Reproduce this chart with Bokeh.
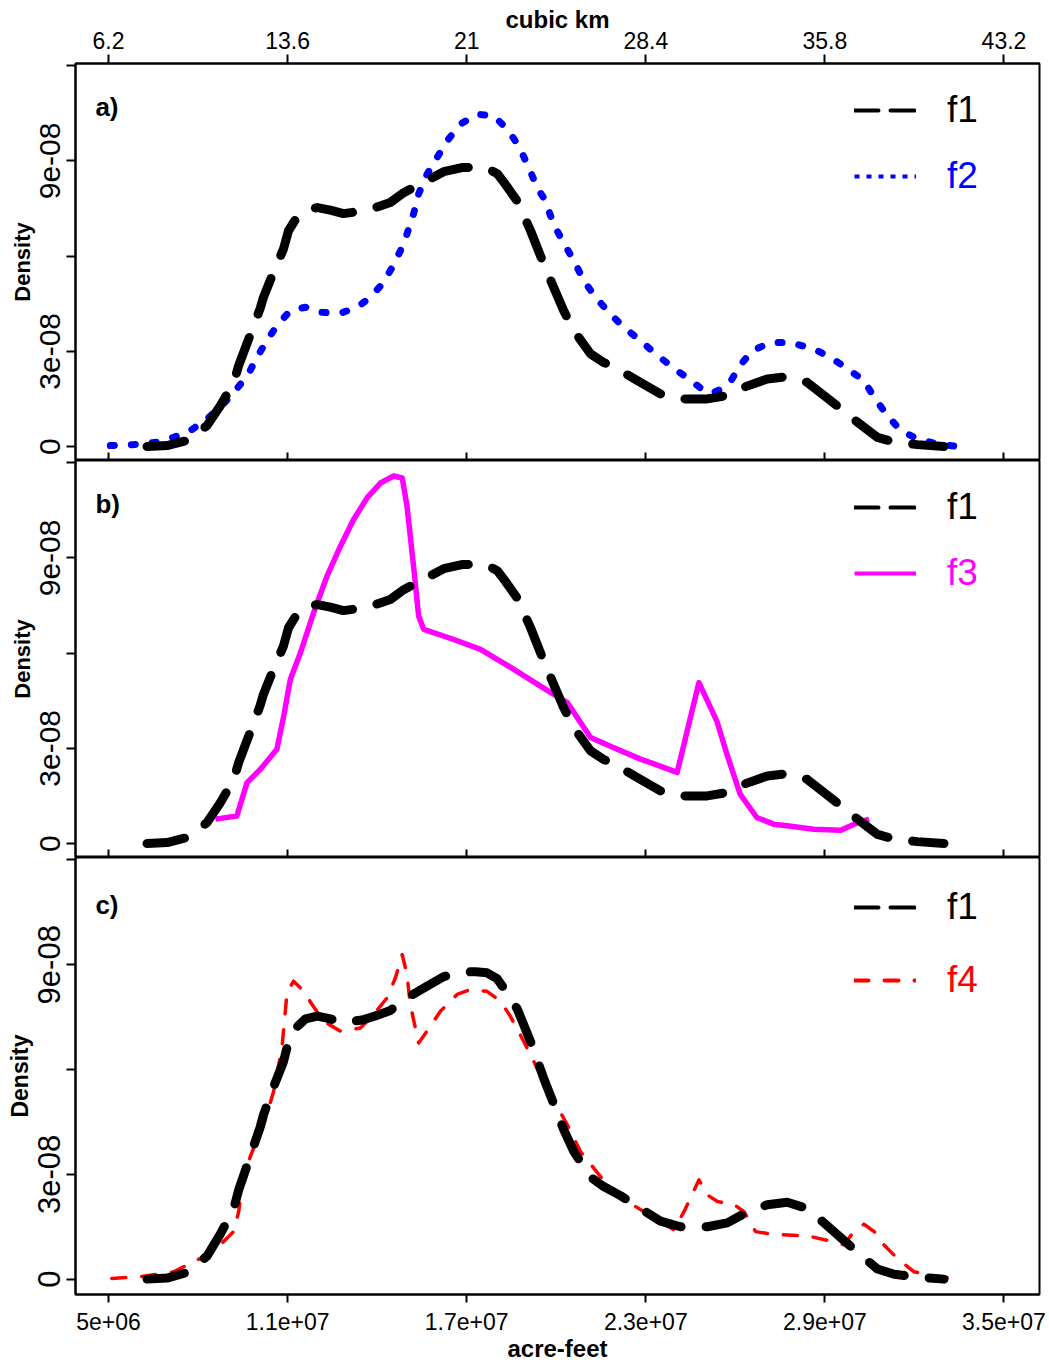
import numpy as np
from bokeh.plotting import figure
from bokeh.layouts import column
from bokeh.models import Range1d, LinearAxis, FixedTicker, Label, Legend, LegendItem
from bokeh.embed import file_html
from bokeh.resources import INLINE

FONT = "Liberation Sans"

# Annual flow in millions of acre-feet and density in units of 1e-8
f1_maf = [6.29, 6.96, 7.63, 7.85, 8.30, 8.74, 9.19, 9.36, 9.64, 10.08, 10.19, 10.53, 10.86, 11.03, 11.31,
          11.60, 12.00, 12.43, 12.87, 13.50, 14.00, 14.44, 14.89, 15.50, 16.23, 16.84, 17.30, 17.68, 18.02,
          18.29, 18.69, 19.14, 19.58, 20.25, 20.59, 21.15, 21.59, 22.15, 22.82, 23.49, 24.16, 25.06, 25.73,
          26.29, 27.07, 27.74, 28.41, 28.97, 29.53, 30.09, 30.76, 31.32, 32.10, 32.99]
f1_dens = [0.00, 0.03, 0.19, 0.34, 0.66, 1.28, 2.00, 2.55, 3.25, 4.35, 4.70, 5.50, 6.22, 6.80, 7.22,
           7.45, 7.53, 7.45, 7.34, 7.42, 7.55, 7.69, 8.00, 8.30, 8.66, 8.79, 8.80, 8.77, 8.60,
           8.27, 7.74, 6.80, 5.75, 4.28, 3.65, 2.92, 2.65, 2.39, 2.02, 1.66, 1.50, 1.50, 1.61,
           1.87, 2.13, 2.20, 2.02, 1.61, 1.19, 0.77, 0.29, 0.14, 0.06, 0.00]

f2_maf = [5.06, 5.84, 6.62, 7.18, 7.74, 8.30, 8.85, 9.30, 9.69, 9.97, 10.31, 10.64, 11.09, 11.59, 12.10,
          12.77, 13.33, 13.77, 14.17, 14.50, 14.78, 15.00, 15.22, 15.39, 15.67, 16.01, 16.34, 16.79, 17.35,
          17.91, 18.36, 18.74, 19.08, 19.36, 19.60, 19.92, 20.20, 20.59, 20.92, 21.32, 21.76, 22.26, 22.82,
          23.33, 23.89, 24.44, 24.95, 25.20, 25.50, 25.84, 26.17, 26.57, 27.18, 27.85, 28.63, 29.19, 29.75,
          30.31, 30.65, 31.09, 31.54, 32.10, 32.77, 33.44]
f2_dens = [0.03, 0.06, 0.14, 0.29, 0.50, 0.87, 1.34, 1.82, 2.29, 2.81, 3.34, 3.81, 4.28, 4.39, 4.23,
           4.20, 4.39, 4.70, 5.12, 5.64, 6.17, 6.70, 7.33, 7.96, 8.58, 9.11, 9.63, 10.16, 10.47,
           10.42, 10.00, 9.48, 8.79, 8.16, 7.80, 7.00, 6.49, 5.86, 5.23, 4.70, 4.23, 3.76, 3.34,
           2.92, 2.50, 2.13, 1.76, 1.68, 1.80, 2.05, 2.57, 3.02, 3.28, 3.28, 3.07, 2.81, 2.45,
           2.08, 1.55, 0.98, 0.50, 0.24, 0.08, 0.00]

f3_maf = [8.58, 9.30, 9.64, 10.09, 10.64, 10.87, 11.09, 11.43, 11.87, 12.32, 12.77, 13.21, 13.66, 14.11,
          14.55, 14.84, 15.00, 15.22, 15.39, 15.56, 16.57, 17.46, 18.58, 19.47, 20.37, 21.15, 21.93, 22.82,
          23.16, 24.05, 24.78, 25.38, 25.72, 26.16, 26.72, 27.28, 27.74, 28.63, 29.53, 29.98, 30.48]
f3_dens = [0.77, 0.87, 1.92, 2.34, 2.97, 4.02, 5.17, 6.01, 7.27, 8.43, 9.37, 10.21, 10.89, 11.36,
           11.58, 11.52, 10.63, 8.74, 7.17, 6.75, 6.43, 6.12, 5.49, 4.96, 4.44, 3.34, 3.02, 2.66,
           2.55, 2.24, 5.07, 3.86, 2.81, 1.56, 0.82, 0.61, 0.56, 0.45, 0.42, 0.61, 0.77]

f4_maf = [5.11, 6.06, 7.18, 8.07, 8.74, 9.19, 9.36, 9.52, 9.86, 10.20, 10.53, 10.81, 10.98, 11.20, 11.54,
          11.82, 12.21, 12.77, 13.44, 13.88, 14.33, 14.61, 14.84, 15.00, 15.11, 15.28, 15.39, 15.67, 16.12,
          16.68, 17.12, 17.68, 18.13, 18.46, 18.91, 19.36, 19.81, 20.37, 20.81, 21.93, 22.94, 23.94, 24.28,
          24.78, 25.06, 25.40, 25.95, 26.29, 26.68, 27.29, 28.41, 29.30, 29.64, 29.97, 30.31, 30.65, 30.98,
          31.43, 31.99, 32.77, 33.38]
f4_dens = [0.02, 0.07, 0.21, 0.59, 0.98, 1.36, 1.93, 2.98, 3.75, 4.42, 5.37, 6.62, 8.20, 8.53, 8.24,
           7.86, 7.38, 7.10, 7.19, 7.57, 8.05, 8.62, 9.29, 8.72, 7.86, 7.19, 6.76, 7.10, 7.67,
           8.15, 8.29, 8.24, 7.96, 7.53, 6.81, 6.04, 5.28, 4.42, 3.65, 2.46, 1.93, 1.41, 1.93,
           2.84, 2.41, 2.22, 2.14, 1.93, 1.36, 1.28, 1.24, 1.07, 0.98, 1.36, 1.57, 1.36, 0.98,
           0.59, 0.21, 0.07, 0.02]

x_ticks = [5e6, 1.1e7, 1.7e7, 2.3e7, 2.9e7, 3.5e7]
x_tick_labels = ["5e+06", "1.1e+07", "1.7e+07", "2.3e+07", "2.9e+07", "3.5e+07"]
y_ticks = [0.0, 3e-8, 9e-8]
y_tick_labels = ["0", "3e-08", "9e-08"]
y_minor_ticks = [6e-8, 1.2e-7]

KM3_PER_AF = 1233.48e-9
km3_tick_labels = [f"{round(t * KM3_PER_AF, 1):g}" for t in x_ticks]

X_RANGE = (3.894e6, 36.19e6)
Y_RANGE = (-0.44e-8, 12.07e-8)
LEFT, FRAME_W, RIGHT = 75, 964, 10

# key placement (data units)
KEY_X = 29.99e6
KEY_Y = (10.70e-8, 8.63e-8)
TAG_X, TAG_Y = 4.56e6, 10.70e-8
KEY_GLYPH_H = 50
KEY_LABEL_H = 58


def flow(v):
    return np.asarray(v) * 1e6


def dens(v):
    return np.asarray(v) * 1e-8


def x_axis(labels=None, place="below", tick_in=0, tick_out=9, title=None):
    ax = LinearAxis(ticker=FixedTicker(ticks=x_ticks, minor_ticks=[]),
                    major_tick_in=tick_in, major_tick_out=tick_out,
                    major_tick_line_width=2, axis_line_width=2,
                    minor_tick_line_color=None)
    if labels is None:
        ax.major_label_text_color = None
    else:
        ax.major_label_overrides = dict(zip(x_ticks, labels))
        ax.major_label_text_font = FONT
        ax.major_label_text_font_size = "23px"
        ax.major_label_text_color = "black"
        ax.major_label_standoff = 6 if place == "above" else 10
    if title is not None:
        ax.axis_label = title
        ax.axis_label_text_font = FONT
        ax.axis_label_text_font_size = "24px"
        ax.axis_label_text_font_style = "bold"
        ax.axis_label_text_color = "black"
        ax.axis_label_standoff = -4 if place == "above" else 2
    return ax


def panel(height, top, bottom, tag, tick_px, lab_px):
    p = figure(width=LEFT + FRAME_W + RIGHT, height=height,
               x_range=Range1d(*X_RANGE), y_range=Range1d(*Y_RANGE),
               x_axis_location=None, y_axis_location=None,
               output_backend="svg", toolbar_location=None,
               min_border_left=LEFT, min_border_right=RIGHT,
               min_border_top=top, min_border_bottom=bottom)
    p.grid.visible = False
    p.outline_line_color = "black"
    p.outline_line_width = 2
    p.background_fill_color = "white"
    p.border_fill_color = "white"

    yax = LinearAxis(ticker=FixedTicker(ticks=y_ticks, minor_ticks=y_minor_ticks),
                     major_label_overrides=dict(zip(y_ticks, y_tick_labels)),
                     major_label_orientation="vertical",
                     major_label_text_font=FONT, major_label_text_font_size=tick_px,
                     major_label_text_color="black", major_label_standoff=6,
                     major_tick_in=0, major_tick_out=9, major_tick_line_width=2,
                     minor_tick_in=0, minor_tick_out=9, minor_tick_line_width=2,
                     minor_tick_line_color="black", axis_line_width=2,
                     axis_label="Density", axis_label_text_font=FONT,
                     axis_label_text_font_size=lab_px, axis_label_text_font_style="bold",
                     axis_label_text_color="black", axis_label_standoff=3)
    p.add_layout(yax, "left")

    p.add_layout(Label(x=TAG_X, y=TAG_Y, text=tag, text_font=FONT, text_font_size="26px",
                       text_font_style="bold", text_color="black", text_baseline="alphabetic"))
    return p


def add_key(p, frame_h, row, label, color, **line_kw):
    sample = p.line(x=[np.nan], y=[np.nan], line_color=color, line_width=4, **line_kw)
    x_px = (KEY_X - X_RANGE[0]) / (X_RANGE[1] - X_RANGE[0]) * FRAME_W
    y_px = (KEY_Y[row] - Y_RANGE[0]) / (Y_RANGE[1] - Y_RANGE[0]) * frame_h
    legend = Legend(items=[LegendItem(label=label, renderers=[sample])],
                    location=(x_px, y_px - (KEY_LABEL_H - KEY_GLYPH_H / 2)),
                    glyph_width=62, glyph_height=KEY_GLYPH_H, label_height=KEY_LABEL_H,
                    label_standoff=31, padding=0, margin=0, spacing=0,
                    border_line_color=None, background_fill_alpha=0,
                    label_text_font=FONT, label_text_font_size="37px",
                    label_text_color=color, label_text_baseline="middle")
    p.add_layout(legend)


F1_STYLE = dict(line_color="black", line_width=9, line_dash="38 25", line_cap="round", line_join="round")
F1_KEY = dict(line_dash="24 12", line_cap="round")

# ---- a) f1 vs f2
FA = 397
pa = panel(63 + FA, 63, 0, "a)", "30px", "22px")
pa.add_layout(x_axis(km3_tick_labels, place="above", title="cubic km"), "above")
pa.add_layout(x_axis(None, tick_in=8, tick_out=0), "below")
pa.line(flow(f2_maf), dens(f2_dens), line_color="blue", line_width=7, line_dash="4 17",
        line_cap="round", line_join="round")
pa.line(flow(f1_maf), dens(f1_dens), **F1_STYLE)
add_key(pa, FA, 0, "f1", "black", **F1_KEY)
add_key(pa, FA, 1, "f2", "blue", line_dash="5 7", line_cap="butt")

# ---- b) f1 vs f3
FB = 397
pb = panel(FB, 0, 0, "b)", "30px", "22px")
pb.add_layout(x_axis(None, tick_in=8, tick_out=0), "below")
pb.line(flow(f3_maf), dens(f3_dens), line_color="magenta", line_width=5.5, line_join="round")
pb.line(flow(f1_maf), dens(f1_dens), **F1_STYLE)
add_key(pb, FB, 0, "f1", "black", **F1_KEY)
add_key(pb, FB, 1, "f3", "magenta")

# ---- c) f1 vs f4
FC = 439
pc = panel(FC + 68, 0, 68, "c)", "31px", "23px")
pc.add_layout(x_axis(x_tick_labels, place="below", tick_out=8, title="acre-feet"), "below")
pc.line(flow(f4_maf), dens(f4_dens), line_color="red", line_width=3.5, line_dash="14 16",
        line_cap="round", line_join="round")
pc.line(flow(f1_maf), dens(f1_dens), **F1_STYLE)
add_key(pc, FC, 0, "f1", "black", **F1_KEY)
add_key(pc, FC, 1, "f4", "red", line_dash="14 16", line_cap="round")

layout = column(pa, pb, pc, spacing=0)
open("out.html", "w").write(file_html(layout, INLINE))
